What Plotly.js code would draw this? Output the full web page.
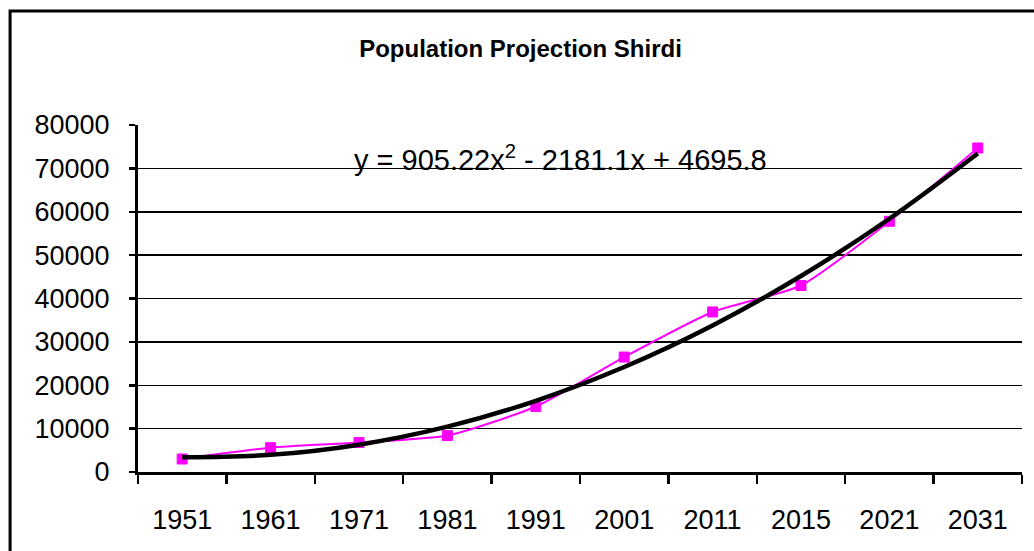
<!DOCTYPE html>
<html>
<head>
<meta charset="utf-8">
<script src="https://cdn.plot.ly/plotly-3.0.1.min.js"></script>
<style>
html,body{margin:0;padding:0;background:#fff;}
#chart{width:1034px;height:551px;}
</style>
</head>
<body>
<div id="chart"></div>
<script>
// Data
const years = ["1951","1961","1971","1981","1991","2001","2011","2015","2021","2031"];
const population = [3000, 5600, 6800, 8400, 15100, 26500, 36900, 43000, 57800, 74700];
// Polynomial trend line (as drawn in the chart)
const trendValues = [3420, 3955, 6300, 10455, 16420, 24200, 33780, 45180, 58390, 73410];
const yTicks = [0, 10000, 20000, 30000, 40000, 50000, 60000, 70000, 80000];
const chartTitle = "Population Projection Shirdi";
const equationText = "y = 905.22x<sup>2</sup> - 2181.1x + 4695.8";

const FONT = "Arial, 'Liberation Sans', sans-serif";

const traces = [
  {
    x: years, y: population, type: "scatter", mode: "lines+markers",
    line: {color: "#ff00ff", width: 2, shape: "spline", smoothing: 0.6},
    marker: {symbol: "square", size: 10, color: "#ff00ff", line: {color: "#ff00ff", width: 1}},
    hoverinfo: "x+y"
  },
  {
    x: years, y: trendValues, type: "scatter", mode: "lines",
    line: {color: "#000000", width: 4.5, shape: "spline", smoothing: 1},
    hoverinfo: "skip"
  }
];

const layout = {
  width: 1034, height: 551,
  paper_bgcolor: "#ffffff", plot_bgcolor: "#ffffff",
  showlegend: false,
  margin: {l: 138, r: 12, t: 125, b: 79, pad: 0},
  font: {family: FONT, color: "#000"},
  title: {
    text: "<b>" + chartTitle + "</b>",
    font: {family: FONT, size: 24, color: "#000"},
    x: 0.4327, xref: "paper", xanchor: "center",
    y: 0.912, yref: "container", yanchor: "middle"
  },
  xaxis: {
    type: "category",
    tickson: "boundaries",
    ticks: "outside", ticklen: 9, tickwidth: 2.5, tickcolor: "#000",
    showline: true, linecolor: "#000", linewidth: 3,
    showgrid: false, zeroline: false,
    tickfont: {family: FONT, size: 27, color: "#000"},
    ticklabelstandoff: 22,
    range: [-0.5, 9.5]
  },
  yaxis: {
    range: [0, 80000],
    tickvals: yTicks,
    ticktext: yTicks.map(String),
    ticks: "outside", ticklen: 6, tickwidth: 2.5, tickcolor: "#000",
    showline: true, linecolor: "#000", linewidth: 3,
    showgrid: true, gridcolor: "#000", gridwidth: 1.5,
    zeroline: false,
    tickfont: {family: FONT, size: 27, color: "#000"},
    ticklabelstandoff: 14
  },
  annotations: [
    {
      text: equationText, xref: "paper", yref: "paper",
      x: 0.4785, y: 0.905, xanchor: "center", yanchor: "middle",
      showarrow: false,
      font: {family: FONT, size: 29, color: "#000"}
    }
  ],
  shapes: [
    {
      type: "rect", xref: "paper", yref: "paper",
      x0: -0.1447, x1: 1.03, y0: -0.26, y1: 1.3285,
      line: {color: "#000", width: 3}, fillcolor: "rgba(0,0,0,0)", layer: "above"
    }
  ]
};

Plotly.newPlot("chart", traces, layout, {displayModeBar: false, staticPlot: true});
</script>
</body>
</html>
